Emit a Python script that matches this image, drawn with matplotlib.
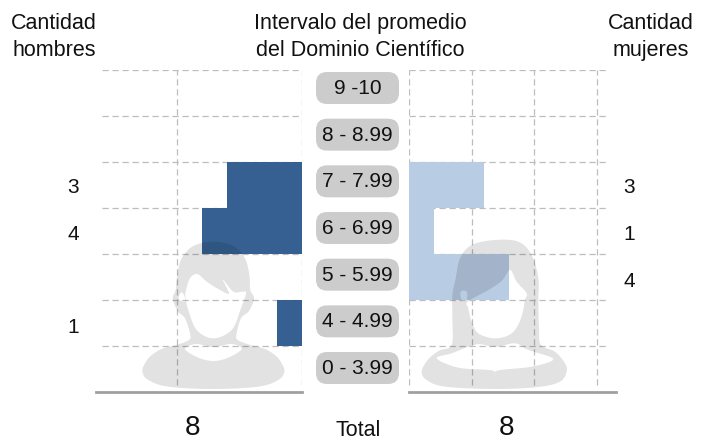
import numpy as np
import matplotlib
matplotlib.use("Agg")
import matplotlib.pyplot as plt
from matplotlib.patches import FancyBboxPatch, PathPatch
from matplotlib.path import Path

plt.rcParams['font.family'] = ['Liberation Sans', 'DejaVu Sans']

intervals = ["0 - 3.99", "4 - 4.99", "5 - 5.99", "6 - 6.99", "7 - 7.99", "8 - 8.99", "9 -10"]
hombres = [0, 1, 0, 4, 3, 0, 0]
mujeres = [0, 0, 4, 1, 3, 0, 0]

W, H = 711, 441
GRID = "#bdbdbd"
AXIS = "#a0a0a0"
INK = "#111111"
PILL_STEP = 46.67

# outlines of the two figures, in zoomed crop pixels
man_outer = [(22, 410), (30, 385), (48, 362), (80, 342), (130, 328), (163, 314), (165, 295), (150, 250),
             (128, 228), (113, 190), (122, 165), (127, 120), (140, 70), (175, 33), (235, 20), (295, 33), (330, 70),
             (343, 120), (346, 165), (357, 190), (342, 228), (318, 250), (305, 295), (307, 314), (340, 328),
             (390, 342), (422, 362), (440, 385), (448, 410), (430, 435), (370, 455), (235, 462), (100, 455), (40, 435)]
man_face = [(152, 170), (165, 130), (187, 117), (215, 140), (250, 162), (282, 176), (263, 133), (295, 170), (322, 170),
            (333, 175), (316, 225), (290, 285), (235, 310), (185, 285), (160, 225), (152, 190)]
man_ear = [(131, 192), (138, 172), (147, 180), (150, 200)]
man_collar = [(150, 342), (183, 327), (235, 336), (290, 327), (320, 342), (280, 368), (235, 378), (190, 368)]

woman_outer = [(20, 410), (38, 375), (72, 347), (110, 330), (112, 250), (112, 180), (122, 130), (135, 70),
               (170, 30), (240, 15), (310, 20), (350, 60), (370, 130), (370, 200), (372, 280), (378, 330),
               (420, 350), (450, 385), (455, 410), (435, 440), (370, 456), (240, 462), (90, 455), (35, 435)]
woman_face = [(158, 200), (215, 168), (260, 138), (285, 105), (305, 140), (335, 175), (330, 195), (318, 250),
              (290, 295), (240, 310), (190, 295), (170, 260), (160, 220)]
woman_ear = [(137, 170), (155, 170), (155, 195), (140, 195)]
woman_collar = [(65, 370), (110, 355), (185, 328), (240, 336), (300, 325), (340, 345), (415, 372), (350, 395),
                (250, 406), (240, 420), (230, 406), (130, 398)]


def smooth(pts, n=8):
    # closed catmull-rom through the outline points
    p = np.array(pts, dtype=float)
    out = []
    for i in range(len(p)):
        p0, p1, p2, p3 = p[i - 1], p[i], p[(i + 1) % len(p)], p[(i + 2) % len(p)]
        for t in np.arange(n) / n:
            out.append(0.5 * (2 * p1 + (p2 - p0) * t + (2 * p0 - 5 * p1 + 4 * p2 - p3) * t ** 2
                              + (3 * p1 - p0 - 3 * p2 + p3) * t ** 3))
    return np.array(out)


def figure_path(parts, x0, y0):
    verts, codes = [], []
    for n, pts in enumerate(parts):
        pts = smooth(pts) / 3 + [x0, y0]
        x, y = pts[:, 0], pts[:, 1]
        area = np.sum(x * np.roll(y, -1) - np.roll(x, -1) * y)
        # holes have to wind the other way round
        if (area > 0) != (n == 0):
            pts = pts[::-1]
        verts += list(pts) + [pts[0]]
        codes += [Path.MOVETO] + [Path.LINETO] * (len(pts) - 1) + [Path.CLOSEPOLY]
    return Path(verts, codes)


def add_axes_px(left, right, top, bottom):
    return fig.add_axes([left / W, 1 - bottom / H, (right - left) / W, (bottom - top) / H])


fig = plt.figure(figsize=(W / 100, H / 100), dpi=100)

rows = np.arange(len(intervals))
tops = rows + 1

# men, bars grow to the left
ax1 = add_axes_px(96, 302, 70, 392)
ax1.barh(rows + 0.5, hombres, height=1, color="#366092", zorder=2)
ax1.set_xlim(8.24, 0)
ax1.hlines(tops, 8, 0, color=GRID, lw=0.9, linestyle=(0, (5, 3)), zorder=1)
ax1.vlines([5, 0], 0.15, 7, color=GRID, lw=0.9, linestyle=(0, (5, 3)), zorder=1)

# women
ax2 = add_axes_px(409, 616, 70, 392)
ax2.barh(rows + 0.5, mujeres, height=1, color="#b8cce4", zorder=2)
ax2.set_xlim(0, 8.28)
ax2.hlines(tops, 0, 7.9, color=GRID, lw=0.9, linestyle=(0, (5, 3)), zorder=1)
ax2.vlines([0, 2.5, 5, 7.5], 0.15, 7, color=GRID, lw=0.9, linestyle=(0, (5, 3)), zorder=1)

for ax in (ax1, ax2):
    ax.set_ylim(0, 7)
    ax.set_yticks([])
    ax.set_xticks([])
    for s in ["top", "left", "right"]:
        ax.spines[s].set_visible(False)
    ax.spines["bottom"].set_color(AXIS)
    ax.spines["bottom"].set_linewidth(2)
    ax.patch.set_alpha(0)

# interval pills, y axis in pixels so the corners come out round
ax3 = add_axes_px(316, 399, 88 - PILL_STEP / 2, 368 + PILL_STEP / 2)
ax3.set_xlim(0, 83)
ax3.set_ylim(-PILL_STEP / 2, 6.5 * PILL_STEP)
ax3.axis("off")
for i, lab in enumerate(intervals):
    yc = i * PILL_STEP
    ax3.add_patch(FancyBboxPatch((0, yc - 16), 83, 32, boxstyle="round,pad=0,rounding_size=11",
                                 fc="#cccccc", ec="none"))
    ax3.text(41.5, yc - 0.5, lab, fontsize=15, ha="center", va="center", color=INK)
    # the counts follow the pills, a little lower
    if hombres[i]:
        ax3.text(-243, yc - 6.5, str(hombres[i]), fontsize=15, ha="center", va="center", color=INK, clip_on=False)
    if mujeres[i]:
        ax3.text(313, yc - 6.5, str(mujeres[i]), fontsize=15, ha="center", va="center", color=INK, clip_on=False)

# figures and all other text in picture pixels
top = fig.add_axes([0, 0, 1, 1], zorder=5)
top.set_xlim(0, W)
top.set_ylim(H, 0)
top.axis("off")
top.add_patch(PathPatch(figure_path([man_outer, man_face, man_ear, man_collar], 135, 235),
                        fc="black", ec="none", alpha=0.115))
top.add_patch(PathPatch(figure_path([woman_outer, woman_face, woman_ear, woman_collar], 415, 235),
                        fc="black", ec="none", alpha=0.115))

top.text(54, 37, "Cantidad\nhombres", fontsize=15.5, ha="center", va="center", linespacing=1.36, color=INK)
top.text(360, 37, "Intervalo del promedio\ndel Dominio Científico", fontsize=15.5, ha="center", va="center", linespacing=1.36, color=INK)
top.text(651, 37, "Cantidad\nmujeres", fontsize=15.5, ha="center", va="center", linespacing=1.36, color=INK)

top.text(192, 428, str(sum(hombres)), fontsize=20, ha="center", va="center", color=INK)
top.text(358, 430, "Total", fontsize=15.5, ha="center", va="center", color=INK)
top.text(506, 428, str(sum(mujeres)), fontsize=20, ha="center", va="center", color=INK)

fig.savefig("out.png", dpi=100)
